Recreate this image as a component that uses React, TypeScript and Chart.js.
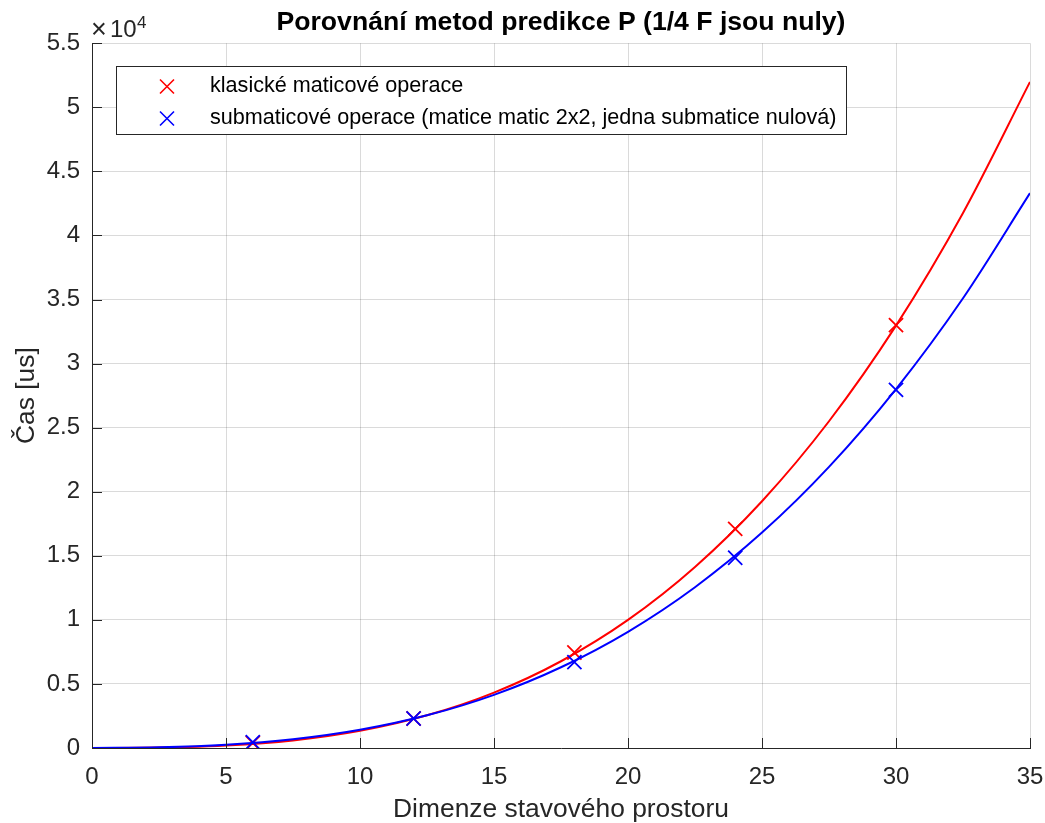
import { useEffect, useRef } from "react";
import { Chart, registerables } from "chart.js";

Chart.register(...registerables);

// Measured points (state dimension -> time in microseconds)
const dims = [6, 12, 18, 24, 30];
const classicTimes = [400, 2300, 7450, 17100, 33000];
const submatrixTimes = [450, 2300, 6700, 14850, 27950];

// Fitted trend curves sampled along the dimension axis
const fitDims = [0, 2.5, 5, 7.5, 10, 12.5, 15, 17.5, 20, 22.5, 25, 27.5, 30, 32.5, 35];
const classicFit = [0, 30, 190, 590, 1340, 2550, 4320, 6770, 10000, 14130, 19260, 25500, 32960, 41750, 51980];
const submatrixFit = [0, 50, 250, 680, 1420, 2550, 4150, 6300, 9070, 12550, 16810, 21940, 28010, 35100, 43300];

const yTickLabels = ["0", "0.5", "1", "1.5", "2", "2.5", "3", "3.5", "4", "4.5", "5", "5.5"];
const legendLabels = [
  "klasické maticové operace",
  "submaticové operace (matice matic 2x2, jedna submatice nulová)",
];
const titleText = "Porovnání metod predikce P (1/4 F jsou nuly)";
const xLabel = "Dimenze stavového prostoru";
const yLabel = "Čas [us]";

const INK = "#262626";
const GRID = "rgba(38,38,38,0.17)";
const RED = "#ff0000";
const BLUE = "#0000ff";
const FONT = '"Liberation Sans", Arial, Helvetica, sans-serif';

const toPoints = (xs: number[], ys: number[]) => xs.map((x, i) => ({ x, y: ys[i] }));

// Inward tick marks, the x10^4 multiplier and the boxed legend
const decorPlugin = {
  id: "axesDecor",
  afterDraw(chart: any) {
    const { ctx, chartArea } = chart;
    const xs = chart.scales.x;
    const ys = chart.scales.y;
    ctx.save();

    ctx.strokeStyle = INK;
    ctx.lineWidth = 1;
    ctx.beginPath();
    xs.ticks.forEach((t: any) => {
      const px = Math.round(xs.getPixelForValue(t.value)) + 0.5;
      ctx.moveTo(px, chartArea.bottom);
      ctx.lineTo(px, chartArea.bottom - 10);
    });
    ys.ticks.forEach((t: any) => {
      const py = Math.round(ys.getPixelForValue(t.value)) + 0.5;
      ctx.moveTo(chartArea.left, py);
      ctx.lineTo(chartArea.left + 10, py);
    });
    ctx.stroke();

    // axis multiplier
    ctx.fillStyle = INK;
    ctx.textBaseline = "alphabetic";
    ctx.textAlign = "left";
    ctx.font = `27px ${FONT}`;
    ctx.fillText("\u00d7", chartArea.left - 1, 38);
    ctx.font = `24px ${FONT}`;
    ctx.fillText("10", chartArea.left + 18, 37);
    ctx.font = `17px ${FONT}`;
    ctx.fillText("4", chartArea.left + 45, 28);

    // legend
    const bx = 116.5, by = 66.5, bw = 730, bh = 68;
    ctx.fillStyle = "#ffffff";
    ctx.fillRect(bx, by, bw, bh);
    ctx.strokeStyle = INK;
    ctx.lineWidth = 1;
    ctx.strokeRect(bx, by, bw, bh);
    const rows = [
      { color: RED, text: legendLabels[0], y: 86.5 },
      { color: BLUE, text: legendLabels[1], y: 118.5 },
    ];
    ctx.font = `21.6px ${FONT}`;
    ctx.textBaseline = "middle";
    rows.forEach((r) => {
      const cx = 167;
      ctx.strokeStyle = r.color;
      ctx.lineWidth = 1.6;
      ctx.beginPath();
      ctx.moveTo(cx - 7, r.y - 7);
      ctx.lineTo(cx + 7, r.y + 7);
      ctx.moveTo(cx - 7, r.y + 7);
      ctx.lineTo(cx + 7, r.y - 7);
      ctx.stroke();
      ctx.fillStyle = "#000000";
      ctx.fillText(r.text, 210, r.y);
    });

    ctx.restore();
  },
};

export default function App() {
  const canvasRef = useRef<HTMLCanvasElement | null>(null);

  useEffect(() => {
    const canvas = canvasRef.current;
    if (!canvas) return;
    const chart = new Chart(canvas, {
      type: "scatter",
      data: {
        datasets: [
          {
            label: legendLabels[1],
            data: toPoints(dims, submatrixTimes),
            borderColor: BLUE,
            backgroundColor: BLUE,
            pointStyle: "crossRot",
            pointRadius: 10,
            pointBorderWidth: 1.8,
            showLine: false,
            order: 0,
          },
          {
            label: legendLabels[1] + " (fit)",
            data: toPoints(fitDims, submatrixFit),
            borderColor: BLUE,
            borderWidth: 2,
            pointRadius: 0,
            showLine: true,
            cubicInterpolationMode: "monotone",
            order: 1,
          },
          {
            label: legendLabels[0],
            data: toPoints(dims, classicTimes),
            borderColor: RED,
            backgroundColor: RED,
            pointStyle: "crossRot",
            pointRadius: 10,
            pointBorderWidth: 1.8,
            showLine: false,
            order: 2,
          },
          {
            label: legendLabels[0] + " (fit)",
            data: toPoints(fitDims, classicFit),
            borderColor: RED,
            borderWidth: 2,
            pointRadius: 0,
            showLine: true,
            cubicInterpolationMode: "monotone",
            order: 3,
          },
        ],
      },
      options: {
        responsive: false,
        animation: false,
        devicePixelRatio: 1,
        layout: { padding: { left: 0, right: 15, top: 0, bottom: 0 } },
        plugins: {
          legend: { display: false },
          tooltip: { enabled: false },
          title: {
            display: true,
            text: titleText,
            fullSize: false,
            color: "#000000",
            font: { family: FONT, size: 26.6, weight: "bold" },
            padding: { top: 6.8, bottom: 4.5 },
          },
        },
        scales: {
          x: {
            type: "linear",
            min: 0,
            max: 35,
            afterFit: (s: any) => {
              s.height = 75;
              s.paddingLeft = 0;
              s.paddingRight = 0;
            },
            ticks: {
              stepSize: 5,
              color: INK,
              font: { family: FONT, size: 24 },
              padding: 15,
              maxRotation: 0,
              autoSkip: false,
            },
            grid: { color: GRID, drawTicks: false, lineWidth: 1 },
            border: { display: true, color: INK, width: 1 },
            title: {
              display: true,
              text: xLabel,
              color: INK,
              font: { family: FONT, size: 26.4 },
              padding: { top: 0, bottom: -3 },
            },
          },
          y: {
            type: "linear",
            min: 0,
            max: 55000,
            afterFit: (s: any) => {
              s.width = 92;
              s.paddingTop = 0;
              s.paddingBottom = 0;
            },
            ticks: {
              stepSize: 5000,
              color: INK,
              font: { family: FONT, size: 24 },
              padding: 12,
              autoSkip: false,
              callback: (v: any) => yTickLabels[Math.round(Number(v) / 5000)],
            },
            grid: { color: GRID, drawTicks: false, lineWidth: 1 },
            border: { display: true, color: INK, width: 1 },
            title: {
              display: true,
              text: yLabel,
              color: INK,
              font: { family: FONT, size: 26.4 },
              padding: { top: 11, bottom: 0 },
            },
          },
        },
      },
      plugins: [decorPlugin],
    } as any);
    return () => chart.destroy();
  }, []);

  return (
    <div
      style={{
        position: "fixed",
        left: 0,
        top: 0,
        width: 1045,
        height: 823,
        background: "#ffffff",
      }}
    >
      <canvas ref={canvasRef} width={1045} height={823} />
    </div>
  );
}
